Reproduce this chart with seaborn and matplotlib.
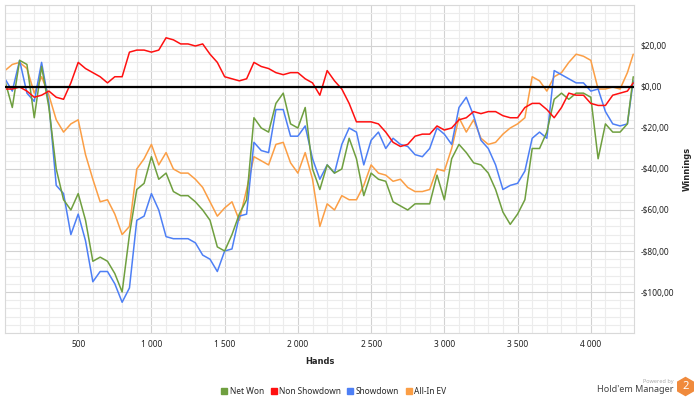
import matplotlib
matplotlib.use('Agg')
import matplotlib.pyplot as plt
from matplotlib.lines import Line2D
from matplotlib.patches import RegularPolygon
from matplotlib.ticker import MultipleLocator
import pandas as pd
import seaborn as sns

# hands played (x), every 50 hands
hands = list(range(0, 4251, 50)) + [4290]

net_won = [3, -10, 13, 11, -15, 10, -10, -40, -55, -60,
           -52, -65, -85, -83, -85, -91, -100, -72, -50, -47,
           -34, -45, -42, -51, -53, -53, -56, -60, -65, -78,
           -80, -72, -62, -55, -15, -20, -22, -8, -3, -18,
           -20, -10, -40, -50, -38, -42, -40, -25, -35, -53,
           -42, -45, -46, -56, -58, -60, -57, -57, -57, -43,
           -55, -35, -28, -32, -37, -38, -42, -50, -61, -67,
           -62, -55, -30, -30, -22, -6, -3, -6, -3, -3,
           -5, -35, -18, -22, -22, -18,
           5]

non_showdown = [-1, -1, 0, -2, -5, -4, -2, -5, -6, 2,
                12, 9, 7, 5, 2, 5, 5, 17, 18, 18,
                17, 18, 24, 23, 21, 21, 20, 21, 16, 12,
                5, 4, 3, 4, 12, 10, 9, 7, 6, 7,
                7, 4, 2, -4, 8, 3, -1, -8, -17, -17,
                -17, -18, -22, -27, -29, -28, -24, -23, -23, -19,
                -21, -20, -16, -15, -12, -13, -12, -12, -14, -15,
                -15, -10, -8, -8, -11, -15, -10, -3, -4, -4,
                -8, -9, -9, -4, -3, -2,
                2]

showdown = [4, -2, 13, -3, -7, 12, -8, -48, -52, -72,
            -62, -75, -95, -90, -90, -96, -105, -98, -65, -63,
            -52, -60, -73, -74, -74, -74, -76, -82, -84, -90,
            -80, -79, -63, -62, -27, -31, -32, -11, -11, -24,
            -24, -19, -35, -45, -38, -42, -28, -20, -22, -38,
            -26, -22, -30, -25, -28, -29, -33, -34, -30, -20,
            -23, -28, -10, -5, -14, -26, -30, -38, -50, -48,
            -47, -41, -25, -22, -25, 8, 6, 4, 2, 2,
            -2, -1, -12, -18, -19, -18,
            3]

all_in_ev = [8, 11, 12, 9, -3, 5, -4, -16, -22, -18,
             -16, -33, -45, -56, -55, -62, -72, -68, -40, -35,
             -28, -38, -32, -40, -42, -42, -45, -49, -56, -63,
             -59, -56, -65, -50, -34, -36, -38, -28, -27, -37,
             -42, -32, -45, -68, -57, -60, -53, -55, -55, -48,
             -38, -42, -43, -46, -45, -49, -51, -51, -50, -40,
             -41, -30, -15, -22, -16, -25, -28, -27, -23, -20,
             -18, -15, 5, 3, -2, 5, 7, 12, 16, 15,
             13, -1, -1, 0, -1, 7,
             16]

series = ['Net Won', 'Non Showdown', 'Showdown', 'All-In EV']
colors = {'Net Won': '#6f9f3f', 'Non Showdown': '#ff1010',
          'Showdown': '#4d7ff5', 'All-In EV': '#fb9e45'}

xticks = [500, 1000, 1500, 2000, 2500, 3000, 3500, 4000]
xtick_labels = ['500', '1 000', '1 500', '2 000', '2 500', '3 000', '3 500', '4 000']
yticks = [-100, -80, -60, -40, -20, 0, 20]
ytick_labels = ['-$100,00', '-$80,00', '-$60,00', '-$40,00', '-$20,00', '$0,00', '$20,00']

df = pd.DataFrame({'hands': hands, 'Net Won': net_won, 'Non Showdown': non_showdown,
                   'Showdown': showdown, 'All-In EV': all_in_ev})
df = df.melt(id_vars='hands', var_name='series', value_name='winnings')

sns.set_style('white')
plt.rc('font', family='Noto Sans')

fig = plt.figure(figsize=(7, 3.99), dpi=100)
ax = fig.add_axes([0.0071, 0.1654, 0.8986, 0.8221])

ax.set_xlim(0, 4295)
ax.set_ylim(-120, 40)
ax.xaxis.set_minor_locator(MultipleLocator(100))
ax.yaxis.set_minor_locator(MultipleLocator(4))
ax.grid(which='minor', color='#ececec', lw=0.8)
ax.grid(which='major', color='#d2d2d2', lw=0.8)
ax.set_axisbelow(True)

sns.lineplot(data=df, x='hands', y='winnings', hue='series',
             hue_order=['All-In EV', 'Showdown', 'Net Won', 'Non Showdown'],
             palette=colors, lw=1.1, ax=ax, legend=False, sort=False)
ax.axhline(0, color='black', lw=1.6, zorder=5)

ax.set_xticks(xticks)
ax.set_xticklabels(xtick_labels)
ax.set_yticks(yticks)
ax.set_yticklabels(ytick_labels)
ax.yaxis.tick_right()
ax.yaxis.set_label_position('right')
ax.tick_params(which='both', length=0, labelsize=6, colors='#222222', pad=5)

ax.set_xlabel('Hands', fontsize=6, fontweight='bold', family='DejaVu Sans', labelpad=6)
ax.set_ylabel('Winnings', fontsize=6, fontweight='bold', family='DejaVu Sans', labelpad=6)

for s in ax.spines.values():
    s.set_color('#d9d9d9')
    s.set_linewidth(0.8)

handles = [Line2D([], [], ls='', marker='s', ms=4, color=colors[s]) for s in series]
fig.legend(handles, series, loc='center', bbox_to_anchor=(0.477, 0.02), ncol=4,
           frameon=False, fontsize=6, handlelength=0.7, handletextpad=0.3,
           columnspacing=0.8, borderaxespad=0)

# Hold'em Manager badge
fig.text(0.962, 0.045, 'Powered by', fontsize=4, color='#aaaaaa', ha='right', va='center')
fig.text(0.962, 0.025, "Hold'em Manager", fontsize=6.5, color='#444444', ha='right', va='center')
hexagon = RegularPolygon((6.855, 0.125), numVertices=6, radius=0.09, color='#f08a3c',
                         transform=fig.dpi_scale_trans)
fig.add_artist(hexagon)
fig.text(6.855 / 7, 0.125 / 3.99, '2', fontsize=8, fontweight='bold', color='white',
         ha='center', va='center')

plt.savefig('out.png', dpi=100)
